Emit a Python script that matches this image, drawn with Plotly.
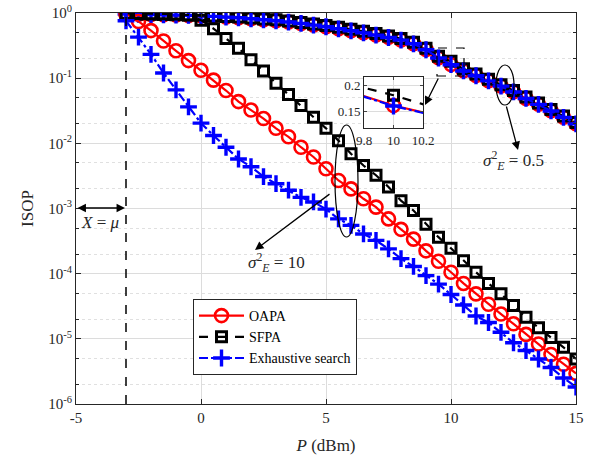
import plotly.graph_objects as go

P = [-3, -2.5, -2, -1.5, -1, -0.5, 0, 0.5, 1, 1.5, 2, 2.5, 3, 3.5, 4, 4.5, 5, 5.5, 6, 6.5,
     7, 7.5, 8, 8.5, 9, 9.5, 10, 10.5, 11, 11.5, 12, 12.5, 13, 13.5, 14, 14.5, 15]

# sigma_E^2 = 10
oapa_10 = [9.77e-1, 7.41e-1, 5.37e-1, 3.72e-1, 2.63e-1, 1.86e-1, 1.32e-1, 9.33e-2, 6.46e-2, 4.37e-2,
           3.24e-2, 2.40e-2, 1.70e-2, 1.26e-2, 8.71e-3, 6.17e-3, 4.07e-3, 2.69e-3, 2.00e-3, 1.41e-3,
           1.05e-3, 6.92e-4, 4.79e-4, 3.39e-4, 2.24e-4, 1.55e-4, 1.05e-4, 7.08e-5, 4.90e-5, 3.39e-5,
           2.40e-5, 1.70e-5, 1.17e-5, 8.32e-6, 5.75e-6, 4.07e-6, 2.95e-6]
sfpa_10 = [9.89e-1, 9.84e-1, 9.77e-1, 9.72e-1, 9.66e-1, 9.33e-1, 7.76e-1, 5.75e-1, 4.07e-1, 2.88e-1,
           1.91e-1, 1.29e-1, 8.32e-2, 5.62e-2, 3.80e-2, 2.51e-2, 1.70e-2, 1.10e-2, 6.92e-3, 4.57e-3,
           3.24e-3, 2.14e-3, 1.32e-3, 9.33e-4, 5.75e-4, 3.63e-4, 2.45e-4, 1.58e-4, 1.05e-4, 7.08e-5,
           4.90e-5, 3.24e-5, 2.14e-5, 1.48e-5, 1.05e-5, 7.41e-6, 4.90e-6]
exh_10 = [7.59e-1, 4.27e-1, 2.32e-1, 1.20e-1, 6.61e-2, 3.63e-2, 2.04e-2, 1.32e-2, 8.71e-3, 5.75e-3,
          4.37e-3, 3.09e-3, 2.40e-3, 1.91e-3, 1.48e-3, 1.26e-3, 9.77e-4, 6.92e-4, 5.50e-4, 4.07e-4,
          3.24e-4, 2.40e-4, 1.70e-4, 1.29e-4, 9.33e-5, 6.92e-5, 4.79e-5, 3.31e-5, 2.24e-5, 1.78e-5,
          1.26e-5, 8.71e-6, 6.61e-6, 4.90e-6, 3.63e-6, 2.51e-6, 1.82e-6]

# sigma_E^2 = 0.5
oapa_05 = [9.66e-1, 9.55e-1, 9.48e-1, 9.42e-1, 9.31e-1, 9.20e-1, 9.10e-1, 8.89e-1, 8.67e-1, 8.47e-1,
           8.18e-1, 7.89e-1, 7.62e-1, 7.28e-1, 6.93e-1, 6.53e-1, 6.17e-1, 5.74e-1, 5.35e-1, 4.98e-1,
           4.59e-1, 4.23e-1, 3.85e-1, 3.39e-1, 2.75e-1, 2.05e-1, 1.62e-1, 1.30e-1, 1.10e-1, 9.12e-2,
           7.59e-2, 6.17e-2, 4.90e-2, 3.98e-2, 3.16e-2, 2.51e-2, 2.00e-2]
sfpa_05 = [9.70e-1, 9.60e-1, 9.55e-1, 9.50e-1, 9.40e-1, 9.30e-1, 9.20e-1, 9.02e-1, 8.82e-1, 8.65e-1,
           8.38e-1, 8.10e-1, 7.85e-1, 7.52e-1, 7.18e-1, 6.80e-1, 6.45e-1, 6.02e-1, 5.62e-1, 5.25e-1,
           4.85e-1, 4.45e-1, 4.05e-1, 3.55e-1, 2.88e-1, 2.16e-1, 1.81e-1, 1.39e-1, 1.16e-1, 9.60e-2,
           7.95e-2, 6.45e-2, 5.12e-2, 4.15e-2, 3.30e-2, 2.62e-2, 2.08e-2]
exh_05 = [9.64e-1, 9.53e-1, 9.46e-1, 9.40e-1, 9.29e-1, 9.18e-1, 9.08e-1, 8.87e-1, 8.65e-1, 8.45e-1,
          8.16e-1, 7.87e-1, 7.60e-1, 7.26e-1, 6.91e-1, 6.51e-1, 6.15e-1, 5.72e-1, 5.33e-1, 4.96e-1,
          4.57e-1, 4.21e-1, 3.83e-1, 3.37e-1, 2.73e-1, 2.04e-1, 1.61e-1, 1.29e-1, 1.09e-1, 9.08e-2,
          7.55e-2, 6.14e-2, 4.88e-2, 3.96e-2, 3.14e-2, 2.50e-2, 1.99e-2]

x_ticks = [-5, 0, 5, 10, 15]
y_tickvals = [1e-6, 1e-5, 1e-4, 1e-3, 1e-2, 1e-1, 1]
y_ticktext = ["10<sup>-6</sup>", "10<sup>-5</sup>", "10<sup>-4</sup>", "10<sup>-3</sup>",
              "10<sup>-2</sup>", "10<sup>-1</sup>", "10<sup>0</sup>"]
legend_names = ["OAPA", "SFPA", "Exhaustive search"]
mu_x = -3

FONT = "Liberation Serif"
RED, BLK, BLU = "#FF0000", "#000000", "#0000FF"

# plot area in pixels
L, R, T, B = 76, 576, 13, 404
W, H = R - L, B - T
def px(xp): return (xp - L) / W
def py(yp): return (B - yp) / H

styles = [
    dict(color=RED, dash="solid", symbol="circle-open", size=13, mlw=2.6),
    dict(color=BLK, dash="dash", symbol="square-open", size=10, mlw=3.0),
    dict(color=BLU, dash="dashdot", symbol="cross-thin-open", size=12, mlw=3.4),
]

fig = go.Figure()

def add(y, st, name, show, xa="x", ya="y"):
    fig.add_trace(go.Scatter(
        x=P, y=y, mode="lines+markers", name=name, showlegend=show,
        xaxis=xa, yaxis=ya, cliponaxis=True,
        line=dict(color=st["color"], width=2.2, dash=st["dash"]),
        marker=dict(symbol=st["symbol"], size=st["size"], color=st["color"],
                    line=dict(color=st["color"], width=st["mlw"]))))

for ys, st, nm in zip([oapa_05, sfpa_05, exh_05], styles, legend_names):
    add(ys, st, nm, False)
for ys, st, nm in zip([oapa_10, sfpa_10, exh_10], styles, legend_names):
    add(ys, st, nm, True)
# inset (zoom of sigma=0.5 around P=10)
for ys, st, nm in zip([oapa_05, sfpa_05, exh_05], styles, legend_names):
    add(ys, st, nm, False, "x2", "y2")

axis_common = dict(showline=True, linecolor="#262626", linewidth=1, mirror="ticks",
                   ticks="inside", tickcolor="#262626", ticklen=5, automargin=False,
                   gridcolor="#DCDCDC", gridwidth=1, zeroline=False,
                   tickfont=dict(family=FONT, size=15, color="#262626"))

fig.update_layout(
    width=593, height=463,
    margin=dict(l=L, r=593 - R, t=T, b=463 - B),
    paper_bgcolor="white", plot_bgcolor="white",
    font=dict(family=FONT, color="#262626"),
    xaxis=dict(range=[-5, 15], tickvals=x_ticks, ticktext=[str(v) for v in x_ticks],
               title=dict(text="<i>P</i> (dBm)", font=dict(family=FONT, size=17), standoff=14),
               **axis_common),
    yaxis=dict(type="log", range=[-6, 0], tickvals=y_tickvals, ticktext=y_ticktext,
               title=dict(text="ISOP", font=dict(family=FONT, size=17), standoff=10),
               minor=dict(ticks="inside", ticklen=3, tickcolor="#262626", showgrid=True,
                          gridcolor="#E0E0E0", griddash="dot", gridwidth=1),
               **axis_common),
    xaxis2=dict(domain=[px(364), px(423)], anchor="y2", range=[9.8, 10.2],
                tickvals=[9.8, 10, 10.2], ticktext=["9.8", "10", "10.2"], automargin=False,
                showline=True, linecolor="#262626", mirror="ticks", ticks="inside", ticklen=3,
                gridcolor="#DCDCDC", zeroline=False,
                tickfont=dict(family=FONT, size=13, color="#262626")),
    yaxis2=dict(domain=[py(128), py(77)], anchor="x2", range=[0.12, 0.215],
                tickvals=[0.15, 0.2], ticktext=["0.15", "0.2"], automargin=False,
                showline=True, linecolor="#262626", mirror="ticks", ticks="inside", ticklen=3,
                gridcolor="#DCDCDC", zeroline=False,
                tickfont=dict(family=FONT, size=13, color="#262626")),
    legend=dict(x=px(193), y=py(299), xanchor="left", yanchor="top",
                bgcolor="white", bordercolor="#262626", borderwidth=1,
                font=dict(family=FONT, size=14, color="#000000"),
                itemwidth=45, tracegroupgap=0),
)

shapes = [
    # vertical dashed line at X = mu
    dict(type="line", xref="x", yref="paper", x0=mu_x, x1=mu_x, y0=0, y1=1,
         line=dict(color=BLK, width=1.5, dash="dash")),
    # ellipse sigma=0.5
    dict(type="circle", xref="paper", yref="paper", x0=px(496), x1=px(514), y0=py(105), y1=py(65),
         line=dict(color=BLK, width=1.2)),
    # ellipse sigma=10
    dict(type="circle", xref="paper", yref="paper", x0=px(335), x1=px(358), y0=py(237), y1=py(125),
         line=dict(color=BLK, width=1.2)),
    # dashed zoom rectangle
    dict(type="rect", xref="paper", yref="paper", x0=px(437), x1=px(464), y0=py(76), y1=py(48),
         line=dict(color=BLK, width=1.2, dash="dash")),
]
fig.update_layout(shapes=shapes)

arrow = dict(text="", showarrow=True, arrowhead=2, arrowsize=1.3, arrowwidth=1.3, arrowcolor=BLK,
             xref="paper", yref="paper")
anns = [
    dict(x=px(518), y=py(150), ax=506 - 518, ay=105 - 150, **arrow),
    dict(x=px(255), y=py(250), ax=331 - 255, ay=193 - 250, **arrow),
    dict(x=px(425), y=py(105), ax=439 - 425, ay=77 - 105, **arrow),
    dict(x=px(125), y=py(208), ax=-49, ay=0, arrowside="end+start", **arrow),
]
txt = dict(xref="paper", yref="paper", showarrow=False, xanchor="center", yanchor="middle",
           font=dict(family=FONT, size=17, color="#262626"))
anns += [
    dict(x=px(100), y=py(222), text="<i>X</i> = <i>μ</i>", **txt),
    dict(x=px(513), y=py(160), text="<i>σ</i><sup>2</sup><sub><i>E</i></sub> = 0.5", **txt),
    dict(x=px(276), y=py(262), text="<i>σ</i><sup>2</sup><sub><i>E</i></sub> = 10", **txt),
]
fig.update_layout(annotations=anns)

fig.write_html("out.html")
